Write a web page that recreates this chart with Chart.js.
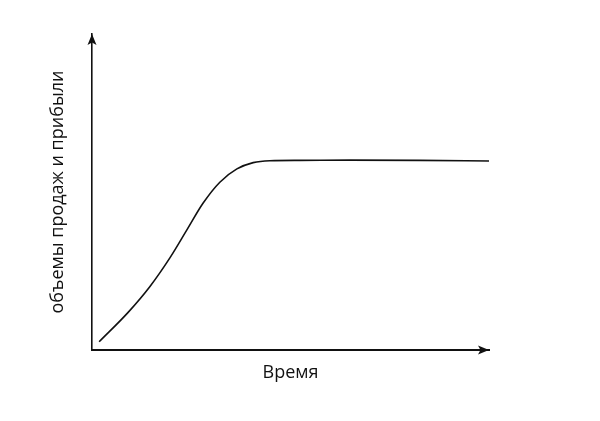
<!DOCTYPE html>
<html>
<head>
<meta charset="utf-8">
<script src="https://cdn.jsdelivr.net/npm/chart.js@4"></script>
<style>
  html, body { margin: 0; padding: 0; background: #fff; }
  #wrap { width: 600px; height: 421px; }
</style>
</head>
<body>
<div id="wrap"><canvas id="myChart"></canvas></div>
<script>
// curve (time, volume)
var timeVals = [1.8, 9.1, 14.6, 19.7, 23.9, 28.0, 32.2, 36.5, 40.6, 44.8, 52.4, 65.0, 82.6, 100];
var salesVals = [2.6, 11.9, 20.1, 29.3, 38.0, 46.5, 53.1, 57.3, 59.3, 59.9, 60.0, 60.1, 60.0, 59.8];
var xTitle = 'Время';
var yTitle = 'объемы продаж и прибыли';

var points = timeVals.map(function (t, i) { return { x: t, y: salesVals[i] }; });

// arrow heads at the ends of the axes
var arrows = {
    id: 'arrows',
    afterDraw: function (chart) {
        var ctx = chart.ctx, a = chart.chartArea;
        ctx.save();
        ctx.fillStyle = '#111';
        // up
        ctx.beginPath();
        ctx.moveTo(a.left, a.top);
        ctx.lineTo(a.left + 4.5, a.top + 11);
        ctx.lineTo(a.left, a.top + 8.5);
        ctx.lineTo(a.left - 4.5, a.top + 11);
        ctx.closePath();
        ctx.fill();
        // right
        ctx.beginPath();
        ctx.moveTo(a.right, a.bottom);
        ctx.lineTo(a.right - 11, a.bottom - 4.5);
        ctx.lineTo(a.right - 8.5, a.bottom);
        ctx.lineTo(a.right - 11, a.bottom + 4.5);
        ctx.closePath();
        ctx.fill();
        ctx.restore();
    }
};

var chart = new Chart(document.getElementById('myChart'), {
    type: 'line',
    data: {
        datasets: [{
            data: points,
            borderColor: '#111',
            borderWidth: 1.6,
            cubicInterpolationMode: 'monotone',
            pointRadius: 0,
            fill: false
        }]
    },
    options: {
        responsive: true,
        maintainAspectRatio: false,
        animation: false,
        layout: { padding: { left: 0, right: 111, top: 34, bottom: 0 } },
        plugins: { legend: { display: false }, tooltip: { enabled: false } },
        scales: {
            x: {
                type: 'linear',
                min: 0,
                max: 100,
                grid: { display: false },
                border: { display: true, color: '#111', width: 2 },
                ticks: { display: false },
                title: {
                    display: true,
                    text: xTitle,
                    color: '#111',
                    font: { family: 'Open Sans', size: 18 },
                    padding: { top: 0, bottom: 37 }
                },
                afterFit: function (s) { s.height = 71; }
            },
            y: {
                min: 0,
                max: 100,
                grid: { display: false },
                border: { display: true, color: '#111', width: 1.6 },
                ticks: { display: false },
                title: {
                    display: true,
                    text: yTitle,
                    color: '#111',
                    font: { family: 'Open Sans', size: 18 },
                    padding: { top: 47, bottom: 0 }
                },
                afterFit: function (s) { s.width = 92; }
            }
        }
    },
    plugins: [arrows]
});
</script>
</body>
</html>
